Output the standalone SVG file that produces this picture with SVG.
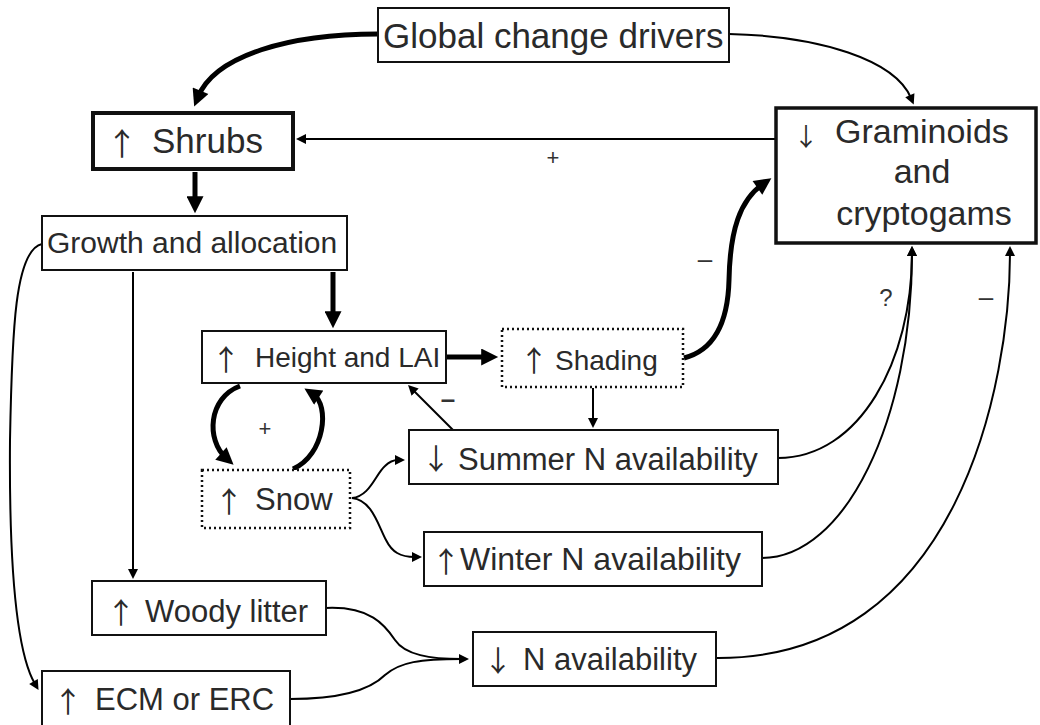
<svg xmlns="http://www.w3.org/2000/svg" width="1040" height="725" viewBox="0 0 1040 725">
<defs>
<style>
.box{fill:#fff;stroke:#111;stroke-width:2}
.thick{stroke-width:4}
.dot{fill:#fff;stroke:#111;stroke-width:2.5;stroke-dasharray:2 3}
.t{font-family:"Liberation Sans",Arial,sans-serif;fill:#2a2a2a}
.ar{font-family:"Noto Sans CJK JP","Noto Sans CJK SC",sans-serif;fill:#2a2a2a;text-anchor:middle;font-size:29px}
.c{fill:none;stroke:#000;stroke-width:2}
.cb{fill:none;stroke:#000;stroke-width:5}
.lbl{font-family:"Liberation Sans",Arial,sans-serif;fill:#333;text-anchor:middle}
</style>
<marker id="ah" viewBox="0 0 10 10" markerWidth="11" markerHeight="10" refX="3" refY="5" orient="auto" markerUnits="userSpaceOnUse"><path d="M0,0 L10,5 L0,10 z" fill="#000"/></marker>
<marker id="ahb" viewBox="0 0 10 10" markerWidth="18" markerHeight="17" refX="4" refY="5" orient="auto" markerUnits="userSpaceOnUse"><path d="M0,0 L10,5 L0,10 z" fill="#000"/></marker>
</defs>
<rect width="1040" height="725" fill="#fff"/>

<g id="connectors">
<path class="cb" d="M378,34 C290,34 215,55 198,97" marker-end="url(#ahb)"/>
<path class="c" d="M729,34 C820,36 895,60 911,98" marker-end="url(#ah)"/>
<path class="c" d="M776,139 L303,139" marker-end="url(#ah)"/>
<path class="cb" d="M195,172 L195,203" marker-end="url(#ahb)"/>
<path class="cb" d="M333,272 L333,318" marker-end="url(#ahb)"/>
<path class="c" d="M133,272 L133,572" marker-end="url(#ah)"/>
<path class="c" d="M42,244 C15,250 12,330 10,440 C9,560 15,650 35,684" marker-end="url(#ah)"/>
<path class="cb" d="M446,357 L488,357" marker-end="url(#ahb)"/>
<path class="cb" d="M684,358 C715,350 728,320 729,280 C730,230 740,200 763,184" marker-end="url(#ahb)"/>
<path class="c" d="M593,388 L593,421" marker-end="url(#ah)"/>
<path class="c" d="M453,430 L413,390" marker-end="url(#ah)"/>
<path class="cb" d="M240,386 C208,398 206,440 226,458" marker-end="url(#ahb)"/>
<path class="cb" d="M293,469 C325,455 330,405 313,394" marker-end="url(#ahb)"/>
<path class="c" d="M352,498 C370,496 375,475 385,466 C389,462 392,460 398,460" marker-end="url(#ah)"/>
<path class="c" d="M352,498 C372,500 378,525 386,540 C392,552 400,557 415,557" marker-end="url(#ah)"/>
<path class="c" d="M778,458 C860,458 912,360 912,253" marker-end="url(#ah)"/>
<path class="c" d="M762,558 C845,558 912,420 912,253" marker-end="url(#ah)"/>
<path class="c" d="M716,658 C960,660 1010,380 1010,253" marker-end="url(#ah)"/>
<path class="c" d="M326,608 C370,606 385,625 395,640 C405,655 430,659 462,659" marker-end="url(#ah)"/>
<path class="c" d="M290,699 C340,699 370,690 385,675 C400,662 420,659 462,659"/>
<text class="lbl" x="553" y="165" font-size="22">+</text>
<text class="lbl" x="705" y="268" font-size="26">–</text>
<text class="lbl" x="448" y="408" font-size="26" font-weight="bold">–</text>
<text class="lbl" x="265" y="436" font-size="22">+</text>
<text class="lbl" x="886" y="306" font-size="24">?</text>
<text class="lbl" x="986" y="306" font-size="26">–</text>
</g>

<g id="global">
<rect class="box" x="378" y="8" width="351" height="54"/>
<text class="t" x="383" y="48" font-size="35">Global change drivers</text>
</g>
<g id="shrubs">
<rect class="box thick" x="93" y="113" width="200" height="56"/>
<text class="ar" x="122" y="155" style="font-size:31px">↑</text>
<text class="t" x="152" y="153" font-size="35">Shrubs</text>
</g>
<g id="graminoids">
<rect class="box" style="stroke-width:3.5" x="776" y="108" width="260" height="135"/>
<text class="ar" x="806" y="146" style="font-size:25px">↓</text>
<text class="t" x="835" y="143" font-size="34">Graminoids</text>
<text class="t" font-size="34" x="922" y="183" text-anchor="middle">and</text>
<text class="t" font-size="34" x="924" y="225" text-anchor="middle">cryptogams</text>
</g>
<g id="growth">
<rect class="box" x="42" y="216" width="305" height="54"/>
<text class="t" x="47" y="253" font-size="30">Growth and allocation</text>
</g>
<g id="height">
<rect class="box" x="202" y="331" width="244" height="52"/>
<text class="ar" x="226" y="371">↑</text>
<text class="t" x="255" y="367" font-size="28">Height and LAI</text>
</g>
<g id="shading">
<rect class="dot" x="502" y="329" width="181" height="58"/>
<text class="ar" x="534" y="372">↑</text>
<text class="t" x="555" y="370" font-size="28">Shading</text>
</g>
<g id="summer">
<rect class="box" x="409" y="430" width="369" height="54"/>
<text class="ar" x="436" y="470">↓</text>
<text class="t" x="458" y="470" font-size="31">Summer N availability</text>
</g>
<g id="snow">
<rect class="dot" x="202" y="470" width="148" height="58"/>
<text class="ar" x="229" y="513">↑</text>
<text class="t" x="255" y="510" font-size="31">Snow</text>
</g>
<g id="winter">
<rect class="box" x="424" y="532" width="338" height="54"/>
<text class="ar" x="446" y="573">↑</text>
<text class="t" x="460" y="570" font-size="32">Winter N availability</text>
</g>
<g id="woody">
<rect class="box" x="92" y="581" width="234" height="54"/>
<text class="ar" x="121" y="624">↑</text>
<text class="t" x="145" y="622" font-size="31">Woody litter</text>
</g>
<g id="ecm">
<rect class="box" x="42" y="671" width="248" height="58"/>
<text class="ar" x="68" y="713">↑</text>
<text class="t" x="95" y="710" font-size="31">ECM or ERC</text>
</g>
<g id="navail">
<rect class="box" x="473" y="632" width="243" height="54"/>
<text class="ar" x="498" y="672">↓</text>
<text class="t" x="523" y="670" font-size="31">N availability</text>
</g>
</svg>
